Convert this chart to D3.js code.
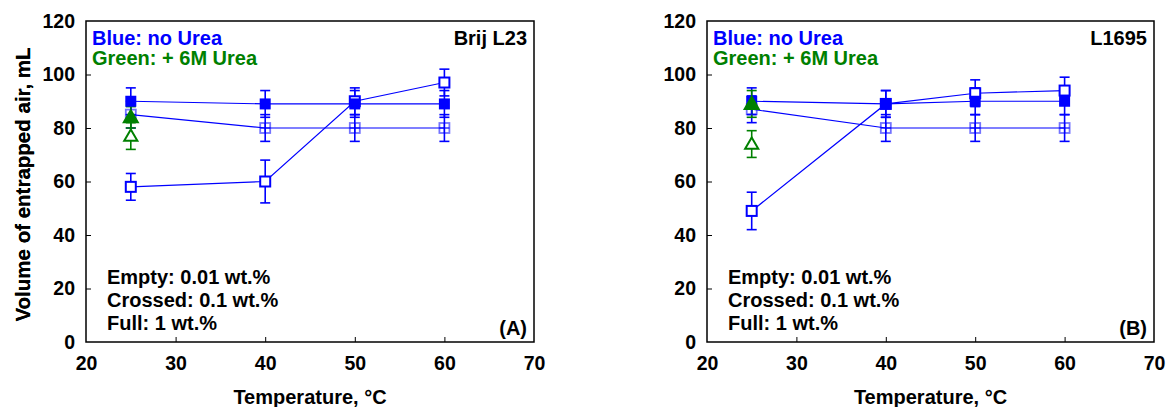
<!DOCTYPE html>
<html>
<head>
<meta charset="utf-8">
<script src="https://cdn.jsdelivr.net/npm/d3@7"></script>
<style>
  html, body { margin: 0; padding: 0; background: #fff; }
  svg text { font-family: "Liberation Sans", Arial, sans-serif; font-weight: bold; }
</style>
</head>
<body>
<svg id="chart" width="1166" height="407"></svg>
<script>
// Temperatures (°C) at which foam air volume was measured
const temps = [25, 40, 50, 60];
const ureaTemps = [25];

// Brij L23 — volume of entrapped air, mL (and error half-widths)
const brijFull = [90, 89, 89, 89];
const brijFullErr = [5, 5, 5, 5];
const brijCrossed = [85, 80, 80, 80];
const brijCrossedErr = [5, 5, 5, 5];
const brijEmpty = [58, 60, 90, 97];
const brijEmptyErr = [5, 8, 5, 5];
const brijUreaFull = [84];
const brijUreaFullErr = [4];
const brijUreaEmpty = [77];
const brijUreaEmptyErr = [5];

// L1695 — volume of entrapped air, mL (and error half-widths)
const l1695Full = [90, 89, 90, 90];
const l1695FullErr = [5, 5, 5, 5];
const l1695Crossed = [87, 80, 80, 80];
const l1695CrossedErr = [5, 5, 5, 5];
const l1695Empty = [49, 89, 93, 94];
const l1695EmptyErr = [7, 5, 5, 5];
const l1695UreaFull = [89];
const l1695UreaFullErr = [5];
const l1695UreaEmpty = [74];
const l1695UreaEmptyErr = [5];

// Axis ticks
const xTicks = [20, 30, 40, 50, 60, 70];
const yTicks = [0, 20, 40, 60, 80, 100, 120];

const BLUE = "#0000ff";
const GREEN = "#008000";

const svg = d3.select("#chart");

function zip(xs, ys, es) {
  return xs.map((x, i) => ({ x, y: ys[i], e: es[i] }));
}

function drawPanel(opts) {
  const g = svg.append("g").attr("transform", `translate(${opts.left},${opts.top})`);
  const w = opts.width, h = opts.height;
  const x = d3.scaleLinear().domain([20, 70]).range([0, w]);
  const y = d3.scaleLinear().domain([0, 120]).range([h, 0]);

  // axes with inward ticks
  const xAxis = g.append("g").attr("transform", `translate(0,${h})`)
    .call(d3.axisBottom(x).tickValues(xTicks).tickSize(-5).tickPadding(14.5).tickFormat(d3.format("d")));
  const yAxis = g.append("g")
    .call(d3.axisLeft(y).tickValues(yTicks).tickSize(-5).tickPadding(11).tickFormat(d3.format("d")));
  [xAxis, yAxis].forEach(a => {
    a.select(".domain").remove();
    a.selectAll("line").attr("stroke", "#000").attr("stroke-width", 1);
    a.selectAll("text").attr("font-size", 19.5).attr("fill", "#000")
      .style("font-family", '"Liberation Sans", Arial, sans-serif').style("font-weight", "bold");
  });
  xAxis.selectAll(".tick").filter(d => d === 20 || d === 70).select("line").remove();
  yAxis.selectAll(".tick").filter(d => d === 0 || d === 120).select("line").remove();

  // frame
  g.append("rect").attr("x", 0).attr("y", 0).attr("width", w).attr("height", h)
    .attr("fill", "none").attr("stroke", "#000").attr("stroke-width", 1.5);

  // axis titles
  g.append("text").attr("x", w / 2).attr("y", 62).attr("transform", `translate(0,${h})`)
    .attr("text-anchor", "middle").attr("font-size", 20).text("Temperature, °C");
  g.append("text")
    .attr("transform", `translate(${-opts.left + 30},${h / 2 + 3}) rotate(-90)`)
    .attr("text-anchor", "middle").attr("font-size", 20.5).text("Volume of entrapped air, mL");

  const series = opts.series;

  // connecting lines
  const line = d3.line().x(d => x(d.x)).y(d => y(d.y));
  series.filter(s => s.pts.length > 1).forEach(s => {
    g.append("path").datum(s.pts).attr("d", line)
      .attr("fill", "none").attr("stroke", s.color).attr("stroke-width", 1.2);
  });

  // error bars
  series.forEach(s => {
    const eb = g.append("g").attr("stroke", s.color).attr("stroke-width", 1.6).attr("fill", "none");
    s.pts.forEach(d => {
      eb.append("line").attr("x1", x(d.x)).attr("x2", x(d.x)).attr("y1", y(d.y - d.e)).attr("y2", y(d.y + d.e));
      [d.y - d.e, d.y + d.e].forEach(v => {
        eb.append("line").attr("x1", x(d.x) - 5).attr("x2", x(d.x) + 5).attr("y1", y(v)).attr("y2", y(v));
      });
    });
  });

  // markers
  series.forEach(s => {
    const mg = g.append("g");
    s.pts.forEach(d => {
      const cx = x(d.x), cy = y(d.y);
      if (s.marker === "squareFull") {
        mg.append("rect").attr("x", cx - 5.5).attr("y", cy - 5.5).attr("width", 11).attr("height", 11)
          .attr("fill", s.color);
      } else if (s.marker === "squareEmpty") {
        mg.append("rect").attr("x", cx - 5).attr("y", cy - 5).attr("width", 10).attr("height", 10)
          .attr("fill", "#fff").attr("stroke", s.color).attr("stroke-width", 2);
      } else if (s.marker === "squareCrossed") {
        mg.append("rect").attr("x", cx - 5).attr("y", cy - 5).attr("width", 10).attr("height", 10)
          .attr("fill", "none").attr("stroke", s.color).attr("stroke-opacity", 0.55).attr("stroke-width", 1.8);
        mg.append("line").attr("x1", cx - 5).attr("x2", cx + 5).attr("y1", cy).attr("y2", cy)
          .attr("stroke", s.color).attr("stroke-width", 1.2);
        mg.append("line").attr("x1", cx).attr("x2", cx).attr("y1", cy - 5).attr("y2", cy + 5)
          .attr("stroke", s.color).attr("stroke-width", 1.2);
      } else if (s.marker === "triFull" || s.marker === "triEmpty") {
        const tri = d3.symbol().type(d3.symbolTriangle).size(s.marker === "triFull" ? 85 : 75);
        mg.append("path").attr("d", tri()).attr("transform", `translate(${cx},${cy + 1})`)
          .attr("fill", s.marker === "triFull" ? s.color : "#fff")
          .attr("stroke", s.color).attr("stroke-width", 2);
      }
    });
  });

  // annotations
  const t = g.append("g");
  t.append("text").attr("x", 6).attr("y", 24).attr("font-size", 20).attr("fill", BLUE).text("Blue: no Urea");
  t.append("text").attr("x", 6).attr("y", 44).attr("font-size", 20).attr("fill", GREEN).text("Green: + 6M Urea");
  t.append("text").attr("x", w - 7).attr("y", 24).attr("font-size", 20).attr("text-anchor", "end").attr("fill", "#000").text(opts.name);
  t.append("text").attr("x", 21).attr("y", 263).attr("font-size", 20).attr("fill", "#000").text("Empty: 0.01 wt.%");
  t.append("text").attr("x", 21).attr("y", 286).attr("font-size", 20).attr("fill", "#000").text("Crossed: 0.1 wt.%");
  t.append("text").attr("x", 21).attr("y", 309).attr("font-size", 20).attr("fill", "#000").text("Full: 1 wt.%");
  t.append("text").attr("x", w - 7).attr("y", 314).attr("font-size", 20).attr("text-anchor", "end").attr("fill", "#000").text(opts.tag);
}

drawPanel({
  left: 86, top: 21, width: 448, height: 321, name: "Brij L23", tag: "(A)",
  series: [
    { color: BLUE, marker: "squareCrossed", pts: zip(temps, brijCrossed, brijCrossedErr) },
    { color: BLUE, marker: "squareEmpty", pts: zip(temps, brijEmpty, brijEmptyErr) },
    { color: BLUE, marker: "squareFull", pts: zip(temps, brijFull, brijFullErr) },
    { color: GREEN, marker: "triEmpty", pts: zip(ureaTemps, brijUreaEmpty, brijUreaEmptyErr) },
    { color: GREEN, marker: "triFull", pts: zip(ureaTemps, brijUreaFull, brijUreaFullErr) }
  ]
});

drawPanel({
  left: 707, top: 21, width: 447, height: 321, name: "L1695", tag: "(B)",
  series: [
    { color: BLUE, marker: "squareCrossed", pts: zip(temps, l1695Crossed, l1695CrossedErr) },
    { color: BLUE, marker: "squareEmpty", pts: zip(temps, l1695Empty, l1695EmptyErr) },
    { color: BLUE, marker: "squareFull", pts: zip(temps, l1695Full, l1695FullErr) },
    { color: GREEN, marker: "triEmpty", pts: zip(ureaTemps, l1695UreaEmpty, l1695UreaEmptyErr) },
    { color: GREEN, marker: "triFull", pts: zip(ureaTemps, l1695UreaFull, l1695UreaFullErr) }
  ]
});
</script>
</body>
</html>
